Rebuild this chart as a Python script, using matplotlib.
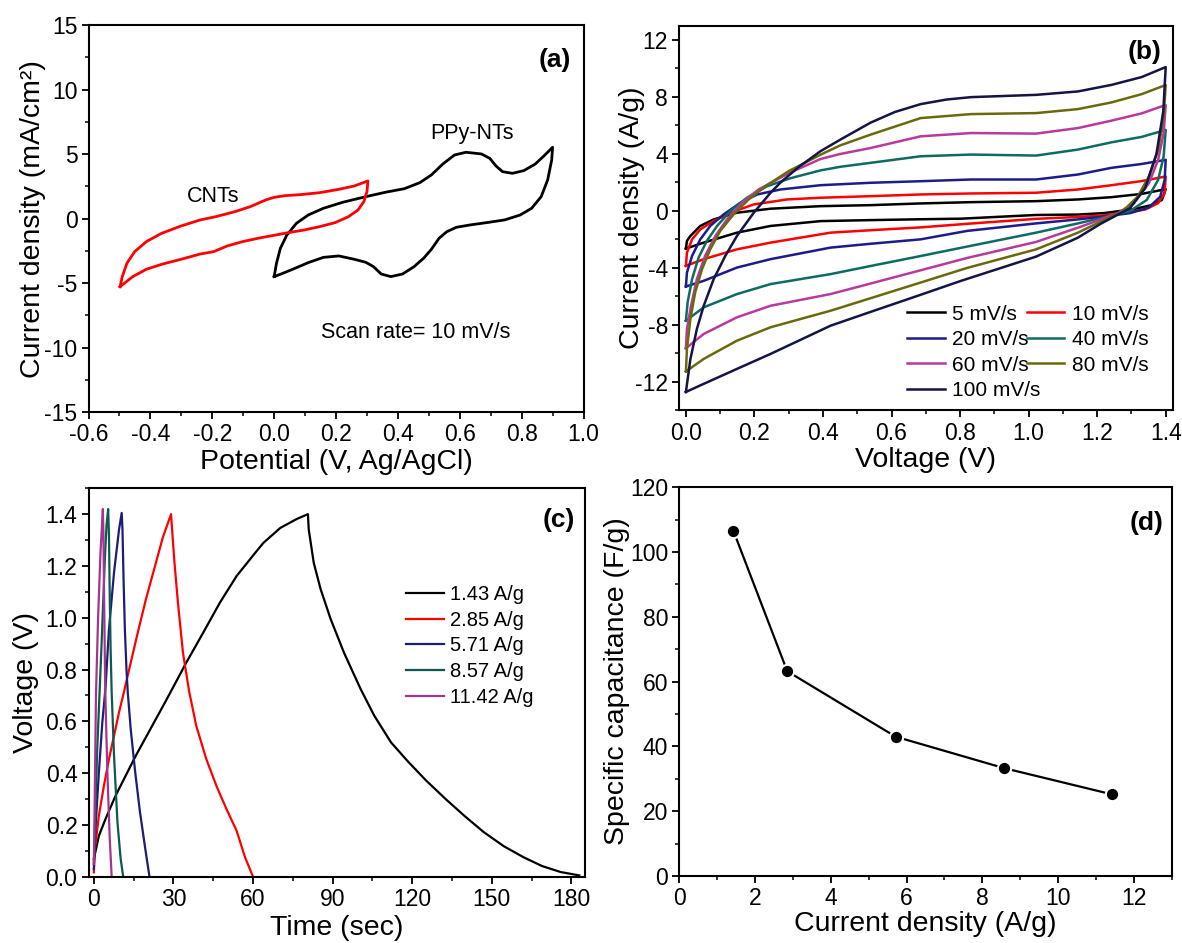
import matplotlib
matplotlib.use("Agg")
import matplotlib.pyplot as plt
from matplotlib.ticker import MultipleLocator, FormatStrFormatter

plt.rcParams.update({
    "font.family": ["Liberation Sans", "DejaVu Sans"],
    "axes.unicode_minus": False,
    "axes.linewidth": 1.5,
    "xtick.direction": "out",
    "ytick.direction": "out",
    "xtick.major.size": 5,
    "ytick.major.size": 5,
    "xtick.minor.size": 3,
    "ytick.minor.size": 3,
    "xtick.major.width": 1.3,
    "ytick.major.width": 1.3,
    "xtick.minor.width": 1.1,
    "ytick.minor.width": 1.1,
    "xtick.labelsize": 16.5,
    "ytick.labelsize": 16.5,
    "xtick.major.pad": 3,
    "ytick.major.pad": 3,
})

# ---------------- (a) three-electrode CV, 10 mV/s ----------------
ppy_E = [0.000, 0.0075, 0.020, 0.041, 0.072, 0.110, 0.159, 0.222, 0.296, 0.359, 0.421, 0.471,
         0.508, 0.545, 0.583, 0.620, 0.670, 0.697, 0.717, 0.738, 0.770, 0.807, 0.844, 0.875, 0.900,
         0.897, 0.884, 0.863, 0.832, 0.795, 0.745, 0.695, 0.633, 0.589, 0.558, 0.533, 0.508, 0.483,
         0.452, 0.415, 0.377, 0.346, 0.321, 0.296, 0.259, 0.209, 0.159, 0.110, 0.060, 0.022, 0.000]
ppy_J = [-4.49, -3.46, -2.30, -1.27, -0.36, 0.28, 0.80, 1.27, 1.70, 2.04, 2.32, 2.79,
         3.38, 4.23, 4.93, 5.14, 5.01, 4.67, 4.08, 3.64, 3.51, 3.72, 4.23, 4.93, 5.53,
         4.54, 3.00, 1.70, 0.80, 0.28, -0.10, -0.28, -0.49, -0.67, -1.01, -1.52, -2.38, -3.07,
         -3.72, -4.29, -4.49, -4.29, -3.72, -3.38, -3.15, -2.89, -3.00, -3.41, -3.92, -4.29, -4.49]

cnt_E = [-0.498, -0.491, -0.476, -0.451, -0.413, -0.364, -0.301, -0.239, -0.189, -0.127, -0.077,
         -0.027, 0.000, 0.035, 0.085, 0.147, 0.209, 0.259, 0.303,
         0.300, 0.290, 0.271, 0.240, 0.197, 0.147, 0.097, 0.047, 0.000, -0.052, -0.102, -0.152,
         -0.196, -0.239, -0.301, -0.364, -0.413, -0.457, -0.498]
cnt_J = [-5.27, -4.49, -3.46, -2.56, -1.78, -1.14, -0.57, -0.10, 0.15, 0.54, 0.93,
         1.45, 1.65, 1.78, 1.86, 2.01, 2.27, 2.53, 2.92,
         2.09, 1.32, 0.67, 0.15, -0.31, -0.62, -0.88, -1.08, -1.29, -1.52, -1.78, -2.12,
         -2.56, -2.74, -3.15, -3.54, -3.92, -4.49, -5.27]

# ---------------- (b) device CV at several scan rates ----------------
v5 = [0.000, 0.003, 0.013, 0.042, 0.081, 0.149, 0.247, 0.393, 0.539, 0.685, 0.832, 1.022, 1.144,
      1.242, 1.330, 1.400,
      1.389, 1.362, 1.307, 1.220, 1.144, 1.022, 0.803, 0.685, 0.539, 0.393, 0.247, 0.149, 0.052, 0.000]
j5 = [-2.64, -2.10, -1.75, -1.05, -0.59, -0.12, 0.16, 0.34, 0.41, 0.53, 0.62, 0.69, 0.81,
      0.97, 1.20, 1.53,
      0.78, 0.43, 0.13, -0.15, -0.25, -0.28, -0.54, -0.58, -0.64, -0.71, -1.05, -1.52, -2.22, -2.64]

v10 = [0.000, 0.003, 0.018, 0.042, 0.081, 0.130, 0.198, 0.295, 0.393, 0.539, 0.685, 0.832, 1.022,
       1.144, 1.242, 1.330, 1.400,
       1.397, 1.378, 1.340, 1.275, 1.210, 1.144, 1.022, 0.820, 0.685, 0.539, 0.422, 0.247, 0.149,
       0.052, 0.000]
j10 = [-3.85, -2.92, -1.99, -1.29, -0.70, -0.12, 0.46, 0.81, 0.93, 1.04, 1.16, 1.23, 1.28,
       1.51, 1.81, 2.10, 2.42,
       1.25, 0.55, 0.10, -0.15, -0.32, -0.42, -0.55, -0.90, -1.15, -1.35, -1.52, -2.22, -2.69,
       -3.38, -3.85]

v20 = [0.000, 0.003, 0.018, 0.042, 0.071, 0.110, 0.159, 0.208, 0.276, 0.393, 0.539, 0.685, 0.832,
       1.022, 1.144, 1.242, 1.330, 1.400,
       1.397, 1.384, 1.351, 1.296, 1.210, 1.144, 1.022, 0.820, 0.685, 0.539, 0.422, 0.247, 0.149,
       0.052, 0.000]
j20 = [-5.30, -4.32, -3.15, -1.99, -1.05, -0.24, 0.58, 1.16, 1.51, 1.81, 1.98, 2.09, 2.21,
       2.21, 2.56, 3.03, 3.30, 3.59,
       2.18, 1.00, 0.25, -0.15, -0.42, -0.59, -0.87, -1.40, -1.99, -2.30, -2.57, -3.38, -3.97,
       -4.90, -5.30]

v40 = [0.000, 0.005, 0.018, 0.037, 0.061, 0.091, 0.130, 0.178, 0.237, 0.305, 0.393, 0.450, 0.539,
       0.685, 0.832, 1.022, 1.144, 1.242, 1.330, 1.400,
       1.394, 1.378, 1.345, 1.296, 1.210, 1.144, 1.022, 0.820, 0.685, 0.539, 0.422, 0.247, 0.149,
       0.052, 0.000]
j40 = [-7.70, -6.41, -4.78, -3.27, -2.10, -1.05, 0.00, 0.93, 1.74, 2.30, 2.85, 3.10, 3.38,
       3.84, 3.96, 3.89, 4.31, 4.82, 5.20, 5.69,
       3.82, 2.19, 0.78, 0.00, -0.50, -0.87, -1.52, -2.50, -3.16, -3.86, -4.43, -5.13, -5.83,
       -6.76, -7.70]

v60 = [0.000, 0.003, 0.015, 0.032, 0.056, 0.086, 0.120, 0.164, 0.212, 0.300, 0.393, 0.450, 0.539,
       0.685, 0.832, 1.022, 1.144, 1.242, 1.330, 1.400,
       1.394, 1.378, 1.351, 1.307, 1.260, 1.210, 1.144, 1.022, 0.820, 0.685, 0.539, 0.422, 0.247,
       0.149, 0.052, 0.000]
j60 = [-9.63, -8.28, -6.65, -4.78, -3.15, -1.75, -0.59, 0.58, 1.51, 2.65, 3.65, 4.00, 4.42,
       5.24, 5.47, 5.43, 5.82, 6.34, 6.85, 7.44,
       5.45, 3.59, 1.95, 0.55, -0.15, -0.60, -1.17, -2.17, -3.30, -4.16, -5.09, -5.83, -6.65,
       -7.46, -8.63, -9.63]

v80 = [0.000, 0.003, 0.013, 0.027, 0.047, 0.071, 0.100, 0.139, 0.183, 0.232, 0.300, 0.393, 0.450,
       0.539, 0.685, 0.832, 1.022, 1.144, 1.242, 1.330, 1.400,
       1.394, 1.378, 1.351, 1.318, 1.275, 1.210, 1.144, 1.022, 0.820, 0.685, 0.539, 0.422, 0.247,
       0.149, 0.052, 0.000]
j80 = [-11.26, -9.68, -7.58, -5.72, -4.08, -2.69, -1.40, -0.24, 0.81, 1.74, 2.80, 3.95, 4.60,
       5.36, 6.52, 6.80, 6.87, 7.15, 7.62, 8.20, 8.84,
       6.62, 4.29, 2.42, 1.00, 0.00, -0.75, -1.52, -2.69, -4.00, -5.02, -6.12, -7.00, -8.16,
       -9.10, -10.38, -11.26]

v100 = [0.000, 0.013, 0.032, 0.052, 0.081, 0.115, 0.149, 0.198, 0.247, 0.276, 0.330, 0.393, 0.450,
        0.539, 0.610, 0.685, 0.760, 0.832, 1.022, 1.144, 1.242, 1.330, 1.400,
        1.393, 1.373, 1.340, 1.296, 1.210, 1.144, 1.022, 0.803, 0.685, 0.539, 0.422, 0.247, 0.149,
        0.052, 0.000]
j100 = [-12.70, -10.40, -8.28, -6.65, -4.78, -3.15, -1.75, -0.12, 1.28, 2.00, 3.10, 4.20, 5.00,
        6.20, 6.95, 7.50, 7.82, 7.99, 8.15, 8.39, 8.85, 9.40, 10.10,
        7.00, 4.00, 1.60, 0.20, -0.90, -1.87, -3.20, -4.90, -5.88, -7.08, -8.05, -10.03, -11.08,
        -12.13, -12.70]

scan_labels = ["5 mV/s", "10 mV/s", "20 mV/s", "40 mV/s", "60 mV/s", "80 mV/s", "100 mV/s"]
scan_colors = ["#000000", "#ff0000", "#1c1c8a", "#0e6b62", "#b83a9c", "#6a6a0c", "#141448"]

# ---------------- (c) galvanostatic charge / discharge ----------------
t_143 = [0.0, 1.9, 4.4, 8.2, 12.0, 15.8, 19.6, 23.4, 27.2, 34.8, 41.2, 47.5, 53.8, 61.4, 64.0,
         70.3, 76.6, 80.7,
         81.0, 82.9, 85.5, 89.3, 94.3, 100.6, 105.7, 112.0, 118.4, 125.2, 132.6, 139.8, 147.0,
         154.5, 162.0, 169.0, 176.0, 183.0]
V_143 = [0.068, 0.158, 0.223, 0.313, 0.390, 0.467, 0.538, 0.609, 0.680, 0.826, 0.942, 1.058, 1.161,
         1.258, 1.290, 1.347, 1.382, 1.400,
         1.341, 1.212, 1.110, 0.994, 0.865, 0.724, 0.622, 0.519, 0.445, 0.372, 0.300, 0.234, 0.172,
         0.118, 0.075, 0.041, 0.018, 0.005]

t_285 = [0.0, 0.4, 1.9, 3.8, 5.7, 7.6, 9.5, 11.5, 13.3, 16.5, 19.6, 22.8, 26.0, 29.1,
         29.5, 30.4, 31.7, 33.6, 35.9, 38.6, 42.4, 46.2, 50.0, 53.8, 57.0, 59.8]
V_285 = [0.017, 0.107, 0.236, 0.351, 0.454, 0.544, 0.635, 0.720, 0.800, 0.940, 1.070, 1.190, 1.310,
         1.400,
         1.341, 1.212, 1.058, 0.865, 0.717, 0.583, 0.454, 0.351, 0.261, 0.178, 0.075, 0.005]

t_571 = [0.0, 0.6, 1.9, 3.2, 4.4, 5.7, 7.6, 9.5, 10.5,
         10.8, 11.2, 11.7, 12.3, 12.8, 13.9, 15.6, 17.4, 19.4, 20.9]
V_571 = [0.030, 0.184, 0.403, 0.596, 0.730, 0.955, 1.174, 1.341, 1.405,
         1.341, 1.148, 0.955, 0.801, 0.710, 0.570, 0.403, 0.249, 0.107, 0.005]

t_857 = [0.0, 0.7, 1.3, 2.2, 3.0, 3.6, 4.2, 4.8, 5.4,
         5.7, 6.0, 6.3, 6.7, 7.6, 8.9, 10.1, 11.0]
V_857 = [0.050, 0.300, 0.500, 0.720, 0.920, 1.080, 1.240, 1.360, 1.420,
         1.320, 1.080, 0.890, 0.720, 0.470, 0.210, 0.070, 0.005]

t_1142 = [0.0, 0.4, 0.8, 1.6, 2.5, 3.4,
          3.6, 3.9, 4.3, 5.1, 6.0, 6.7]
V_1142 = [0.050, 0.350, 0.700, 1.000, 1.250, 1.420,
          1.330, 1.050, 0.720, 0.403, 0.146, 0.005]

gcd_labels = ["1.43 A/g", "2.85 A/g", "5.71 A/g", "8.57 A/g", "11.42 A/g"]
gcd_colors = ["#000000", "#ff0000", "#1c1c7c", "#0c5a4e", "#a3358f"]

# ---------------- (d) rate capability ----------------
current_density = [1.43, 2.85, 5.71, 8.57, 11.42]
capacitance = [106.5, 63.2, 43.0, 33.3, 25.2]


def style_axes(ax):
    ax.tick_params(which="both", top=False, right=False)
    for s in ax.spines.values():
        s.set_linewidth(1.5)


fig = plt.figure(figsize=(11.82, 9.43), dpi=100)
ax_a = fig.add_axes([0.0749, 0.5628, 0.4188, 0.4107])
ax_b = fig.add_axes([0.5745, 0.5647, 0.4175, 0.4080])
ax_c = fig.add_axes([0.0749, 0.0703, 0.4197, 0.4119])
ax_d = fig.add_axes([0.5747, 0.0711, 0.4166, 0.4122])

label_fs = 20.5
note_fs = 15.5
tag_fs = 19

# (a)
ax_a.plot(ppy_E, ppy_J, color="black", lw=2.0)
ax_a.plot(cnt_E, cnt_J, color="#ff0000", lw=2.0)
ax_a.set_xlim(-0.6, 1.0)
ax_a.set_ylim(-15, 15)
ax_a.xaxis.set_major_locator(MultipleLocator(0.2))
ax_a.xaxis.set_minor_locator(MultipleLocator(0.1))
ax_a.xaxis.set_major_formatter(FormatStrFormatter("%.1f"))
ax_a.yaxis.set_major_locator(MultipleLocator(5))
ax_a.yaxis.set_minor_locator(MultipleLocator(2.5))
ax_a.set_xlabel("Potential (V, Ag/AgCl)", fontsize=label_fs, labelpad=2)
ax_a.set_ylabel("Current density (mA/cm²)", fontsize=label_fs)
ax_a.yaxis.set_label_coords(-0.086, 0.5)
ax_a.text(-0.197, 1.70, "CNTs", fontsize=note_fs, ha="center", va="center")
ax_a.text(0.640, 6.61, "PPy-NTs", fontsize=note_fs, ha="center", va="center")
ax_a.text(0.458, -8.83, "Scan rate= 10 mV/s", fontsize=note_fs, ha="center", va="center")
ax_a.text(0.942, 0.91, "(a)", transform=ax_a.transAxes, fontsize=tag_fs,
          fontweight="bold", ha="center", va="center")
style_axes(ax_a)

# (b)
cv_v = [v5, v10, v20, v40, v60, v80, v100]
cv_j = [j5, j10, j20, j40, j60, j80, j100]
handles = []
for v, j, lab, col in zip(cv_v, cv_j, scan_labels, scan_colors):
    h, = ax_b.plot(v, j, color=col, lw=1.8, label=lab)
    handles.append(h)
ax_b.set_xlim(-0.02, 1.42)
ax_b.set_ylim(-14, 13)
ax_b.xaxis.set_major_locator(MultipleLocator(0.2))
ax_b.xaxis.set_minor_locator(MultipleLocator(0.1))
ax_b.xaxis.set_major_formatter(FormatStrFormatter("%.1f"))
ax_b.yaxis.set_major_locator(MultipleLocator(4))
ax_b.yaxis.set_minor_locator(MultipleLocator(2))
ax_b.set_xlabel("Voltage (V)", fontsize=label_fs, labelpad=2)
ax_b.set_ylabel("Current density (A/g)", fontsize=label_fs)
ax_b.yaxis.set_label_coords(-0.07, 0.5)
order = [0, 2, 4, 6, 1, 3, 5]
ax_b.legend([handles[i] for i in order], [scan_labels[i] for i in order], ncol=2,
            fontsize=15, frameon=False, loc="upper left", bbox_to_anchor=(0.462, 0.275),
            borderpad=0, borderaxespad=0, handlelength=1.8, handletextpad=0.36,
            columnspacing=-0.65, labelspacing=0.31)
ax_b.text(0.943, 0.932, "(b)", transform=ax_b.transAxes, fontsize=tag_fs,
          fontweight="bold", ha="center", va="center")
style_axes(ax_b)

# (c)
gcd_t = [t_143, t_285, t_571, t_857, t_1142]
gcd_v = [V_143, V_285, V_571, V_857, V_1142]
for t, v, lab, col in zip(gcd_t, gcd_v, gcd_labels, gcd_colors):
    ax_c.plot(t, v, color=col, lw=1.6, label=lab)
ax_c.set_xlim(-2, 185)
ax_c.set_ylim(0, 1.5)
ax_c.xaxis.set_major_locator(MultipleLocator(30))
ax_c.xaxis.set_minor_locator(MultipleLocator(15))
ax_c.yaxis.set_major_locator(MultipleLocator(0.2))
ax_c.yaxis.set_minor_locator(MultipleLocator(0.1))
ax_c.yaxis.set_major_formatter(FormatStrFormatter("%.1f"))
ax_c.set_xlabel("Time (sec)", fontsize=label_fs, labelpad=3)
ax_c.set_ylabel("Voltage (V)", fontsize=label_fs)
ax_c.yaxis.set_label_coords(-0.1, 0.5)
ax_c.legend(fontsize=14.5, frameon=False, loc="upper left", bbox_to_anchor=(0.640, 0.751),
            borderpad=0, borderaxespad=0, handlelength=1.9, handletextpad=0.28,
            labelspacing=0.33)
ax_c.text(0.948, 0.918, "(c)", transform=ax_c.transAxes, fontsize=tag_fs,
          fontweight="bold", ha="center", va="center")
style_axes(ax_c)

# (d)
ax_d.plot(current_density, capacitance, color="black", lw=1.6, marker="o", ms=9.6,
          mfc="black", mec="white", mew=1.5)
ax_d.set_xlim(0, 13)
ax_d.set_ylim(0, 120)
ax_d.xaxis.set_major_locator(MultipleLocator(2))
ax_d.xaxis.set_minor_locator(MultipleLocator(1))
ax_d.yaxis.set_major_locator(MultipleLocator(20))
ax_d.yaxis.set_minor_locator(MultipleLocator(10))
ax_d.set_xlabel("Current density (A/g)", fontsize=label_fs, labelpad=0.5)
ax_d.set_ylabel("Specific capacitance (F/g)", fontsize=label_fs)
ax_d.yaxis.set_label_coords(-0.1, 0.5)
ax_d.text(0.949, 0.907, "(d)", transform=ax_d.transAxes, fontsize=tag_fs,
          fontweight="bold", ha="center", va="center")
style_axes(ax_d)

fig.savefig("out.png", dpi=100, facecolor="white")
